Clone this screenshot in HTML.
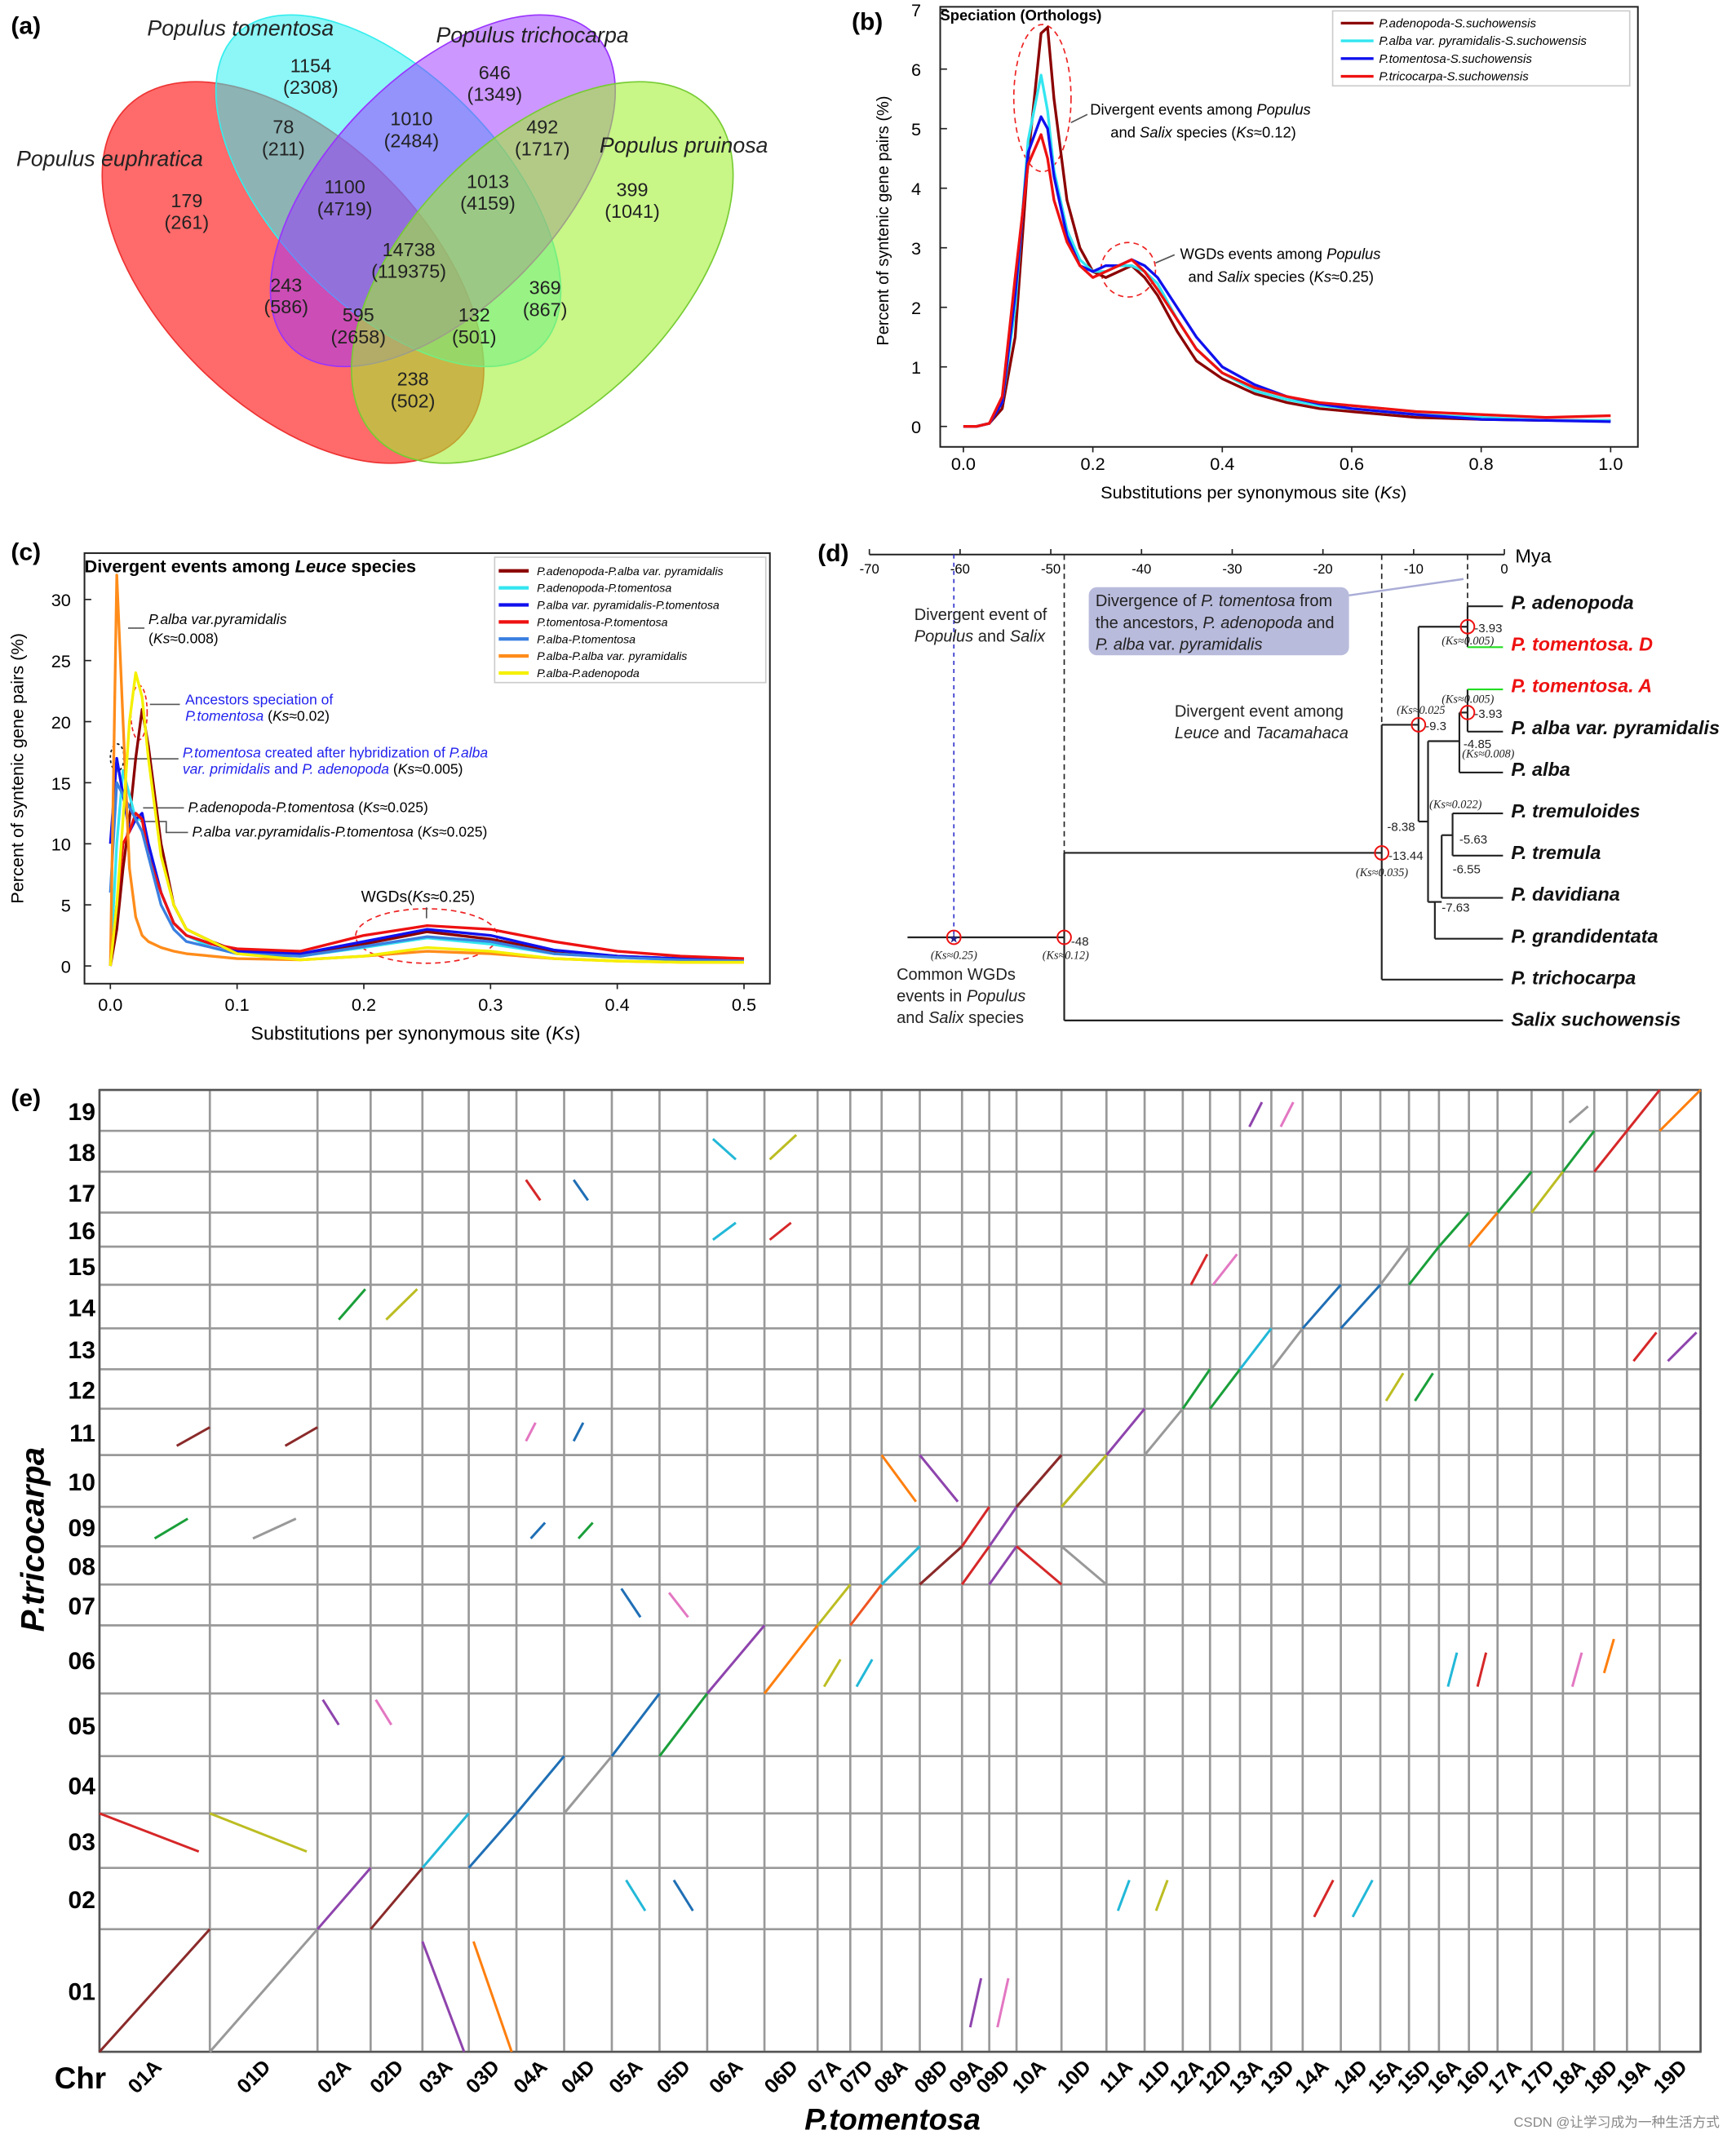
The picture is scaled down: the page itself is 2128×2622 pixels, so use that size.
<!DOCTYPE html>
<html><head><meta charset="utf-8"><style>
html,body{margin:0;padding:0;background:#fff;width:2128px;height:2622px;overflow:hidden}
svg{display:block;font-family:"Liberation Sans",sans-serif}
</style></head><body>
<svg id="fig" width="2128" height="2622" viewBox="0 0 1274 1570" preserveAspectRatio="none" xmlns="http://www.w3.org/2000/svg">
<!-- PANEL A -->
<g>
<text x="8" y="25" font-size="18" font-weight="bold">(a)</text>
<ellipse cx="215" cy="200" rx="172" ry="98" transform="rotate(45 215 200)" fill="#ff3030" fill-opacity="0.72" stroke="#e33"/>
<ellipse cx="285" cy="140" rx="160" ry="84" transform="rotate(46 285 140)" fill="#30eef0" fill-opacity="0.55" stroke="#3ee"/>
<ellipse cx="325" cy="140" rx="160" ry="84" transform="rotate(-46 325 140)" fill="#9a30ff" fill-opacity="0.5" stroke="#93f"/>
<ellipse cx="398" cy="200" rx="172" ry="98" transform="rotate(-45 398 200)" fill="#a0f030" fill-opacity="0.58" stroke="#7c3"/>
<g font-size="16" font-style="italic" fill="#222">
<text x="108" y="26">Populus tomentosa</text>
<text x="320" y="31">Populus trichocarpa</text>
<text x="12" y="122">Populus euphratica</text>
<text x="440" y="112">Populus pruinosa</text>
</g>
<g font-size="14" fill="#222" text-anchor="middle" id="vennNums"></g>
</g>
<!-- PANEL B -->
<g id="pb">
<text x="625" y="22" font-size="18" font-weight="bold">(b)</text>
<rect x="690" y="5" width="512" height="323" fill="none" stroke="#222" stroke-width="1.2"/>
<text x="690" y="15" font-size="11" font-weight="bold">Speciation (Orthologs)</text>
<text transform="translate(652 162) rotate(-90)" font-size="12" text-anchor="middle">Percent of syntenic gene pairs (%)</text>
<text x="920" y="366" font-size="13" text-anchor="middle">Substitutions per synonymous site (<tspan font-style="italic">Ks</tspan>)</text>
<rect x="978" y="8" width="218" height="55" fill="#fff" stroke="#ccc"/>
<g id="pbLegend" font-size="9" font-style="italic"></g>
<ellipse cx="765" cy="72" rx="21" ry="54" fill="none" stroke="#e22" stroke-dasharray="4,3"/>
<circle cx="828" cy="198" r="20" fill="none" stroke="#e22" stroke-dasharray="4,3"/>
<text x="800" y="84" font-size="11">Divergent events among <tspan font-style="italic">Populus</tspan></text>
<text x="815" y="101" font-size="11">and <tspan font-style="italic">Salix</tspan> species (<tspan font-style="italic">Ks</tspan>≈0.12)</text>
<text x="866" y="190" font-size="11">WGDs events among <tspan font-style="italic">Populus</tspan></text>
<text x="872" y="207" font-size="11">and <tspan font-style="italic">Salix</tspan> species (<tspan font-style="italic">Ks</tspan>≈0.25)</text>
<line x1="786" y1="90" x2="798" y2="84" stroke="#555"/>
<line x1="848" y1="193" x2="862" y2="187" stroke="#555"/>
</g>
<!-- PANEL C -->
<g id="pc">
<text x="8" y="411" font-size="18" font-weight="bold">(c)</text>
<rect x="62" y="406" width="503" height="316" fill="none" stroke="#222" stroke-width="1.2"/>
<text x="62" y="420" font-size="13" font-weight="bold">Divergent events among <tspan font-style="italic">Leuce</tspan> species</text>
<text transform="translate(17 564) rotate(-90)" font-size="13" text-anchor="middle">Percent of syntenic gene pairs (%)</text>
<text x="305" y="763" font-size="14" text-anchor="middle">Substitutions per synonymous site (<tspan font-style="italic">Ks</tspan>)</text>
<rect x="363" y="409" width="199" height="92" fill="#fff" stroke="#ccc"/>
<g id="pcLegend" font-size="8.5" font-style="italic"></g>
<g font-size="10.5">
<text x="109" y="458" font-style="italic">P.alba var.pyramidalis</text>
<text x="109" y="472">(<tspan font-style="italic">Ks</tspan>≈0.008)</text>
<text x="136" y="517" fill="#22e">Ancestors speciation of</text>
<text x="136" y="529"><tspan fill="#22e" font-style="italic">P.tomentosa</tspan> (<tspan font-style="italic">Ks</tspan>≈0.02)</text>
<text x="134" y="556" fill="#22e" font-style="italic">P.tomentosa <tspan font-style="normal">created after hybridization  of</tspan> P.alba</text>
<text x="134" y="568"><tspan fill="#22e" font-style="italic">var. primidalis <tspan font-style="normal">and</tspan> P.  adenopoda</tspan> (<tspan font-style="italic">Ks</tspan>≈0.005)</text>
<text x="138" y="596" font-style="italic">P.adenopoda-P.tomentosa <tspan font-style="normal">(</tspan>Ks<tspan font-style="normal">≈0.025)</tspan></text>
<text x="141" y="614" font-style="italic">P.alba var.pyramidalis-P.tomentosa <tspan font-style="normal">(</tspan>Ks<tspan font-style="normal">≈0.025)</tspan></text>
<text x="265" y="662" font-size="11.5">WGDs(<tspan font-style="italic">Ks</tspan>≈0.25)</text>
</g>
<ellipse cx="102" cy="523" rx="6" ry="20" fill="none" stroke="#e22" stroke-dasharray="3,2"/>
<ellipse cx="86" cy="556" rx="5" ry="10" fill="none" stroke="#111" stroke-dasharray="2,2"/>
<ellipse cx="313" cy="687" rx="52" ry="20" fill="none" stroke="#e22" stroke-dasharray="4,3"/>
<g stroke="#555" fill="none">
<line x1="94" y1="461" x2="106" y2="461"/><line x1="110" y1="517" x2="132" y2="517"/><line x1="90" y1="557" x2="131" y2="557"/>
<line x1="105" y1="593" x2="135" y2="593"/><polyline points="103,603 122,603 122,611 138,611"/><line x1="313" y1="674" x2="313" y2="666"/>
</g>
</g>
<!-- PANEL D -->
<g id="pd">
<text x="600" y="412" font-size="18" font-weight="bold">(d)</text>
<line x1="638" y1="407" x2="1104" y2="407" stroke="#222" stroke-width="1.2"/>
<g id="pdTicks" font-size="10" text-anchor="middle"></g>
<text x="1112" y="413" font-size="14">Mya</text>
<g stroke="#222" stroke-width="1.3" fill="none">
<line x1="666" y1="688" x2="781" y2="688"/>
<line x1="781" y1="626" x2="781" y2="749"/>
<line x1="781" y1="749" x2="1103" y2="749"/>
<line x1="781" y1="626" x2="1014" y2="626"/>
<line x1="1014" y1="532" x2="1014" y2="719"/>
<line x1="1014" y1="719" x2="1103" y2="719"/>
<line x1="1014" y1="532" x2="1041" y2="532"/>
<line x1="1041" y1="460" x2="1041" y2="603"/>
<line x1="1041" y1="460" x2="1077" y2="460"/>
<line x1="1077" y1="445" x2="1077" y2="475"/>
<line x1="1077" y1="445" x2="1103" y2="445"/>
<line x1="1041" y1="603" x2="1048" y2="603"/>
<line x1="1048" y1="544" x2="1048" y2="662"/>
<line x1="1048" y1="544" x2="1071" y2="544"/>
<line x1="1071" y1="523" x2="1071" y2="567"/>
<line x1="1071" y1="567" x2="1103" y2="567"/>
<line x1="1071" y1="523" x2="1077" y2="523"/>
<line x1="1077" y1="506" x2="1077" y2="537"/>
<line x1="1077" y1="537" x2="1103" y2="537"/>
<line x1="1048" y1="662" x2="1058" y2="662"/>
<line x1="1058" y1="613" x2="1058" y2="659"/>
<line x1="1058" y1="659" x2="1103" y2="659"/>
<line x1="1058" y1="613" x2="1066" y2="613"/>
<line x1="1066" y1="597" x2="1066" y2="628"/>
<line x1="1066" y1="597" x2="1103" y2="597"/>
<line x1="1066" y1="628" x2="1103" y2="628"/>
<line x1="1048" y1="662" x2="1053" y2="662"/>
<line x1="1053" y1="662" x2="1053" y2="689"/>
<line x1="1053" y1="689" x2="1103" y2="689"/>
</g>
<g stroke="#2d2" stroke-width="1.3"><line x1="1077" y1="475" x2="1103" y2="475"/><line x1="1077" y1="506" x2="1103" y2="506"/></g>
<g stroke="#222" stroke-dasharray="4,3"><line x1="781" y1="407" x2="781" y2="626"/><line x1="1014" y1="407" x2="1014" y2="532"/><line x1="1077" y1="407" x2="1077" y2="445"/></g>
<line x1="700" y1="407" x2="700" y2="688" stroke="#33c" stroke-dasharray="3,3"/>
<g fill="none" stroke="#e11" stroke-width="1.2">
<circle cx="700" cy="688" r="5"/><circle cx="781" cy="688" r="5"/><circle cx="1014" cy="626" r="5"/><circle cx="1041" cy="532" r="5"/><circle cx="1077" cy="460" r="5"/><circle cx="1077" cy="523" r="5"/>
</g>
<text x="700" y="692" font-size="9" fill="#228" text-anchor="middle">★</text>
<g font-size="9" fill="#222">
<text x="786" y="694">-48</text><text x="1019" y="631">-13.44</text><text x="1046" y="536">-9.3</text><text x="1082" y="464">-3.93</text><text x="1082" y="527">-3.93</text>
<text x="1074" y="549">-4.85</text><text x="1018" y="610">-8.38</text><text x="1071" y="619">-5.63</text><text x="1066" y="641">-6.55</text><text x="1058" y="669">-7.63</text>
<g font-family="Liberation Serif" font-style="italic" font-size="8.5">
<text x="683" y="704">(Ks≈0.25)</text><text x="765" y="704">(Ks≈0.12)</text><text x="995" y="643">(Ks≈0.035)</text><text x="1025" y="524">(Ks≈0.025</text>
<text x="1058" y="473">(Ks≈0.005)</text><text x="1058" y="516">(Ks≈0.005)</text><text x="1073" y="556">(Ks≈0.008)</text><text x="1049" y="593">(Ks≈0.022)</text>
</g></g>
<rect x="799" y="431" width="191" height="50" rx="6" fill="#b9bbdc"/>
<g font-size="12" fill="#222">
<text x="804" y="445">Divergence of <tspan font-style="italic">P. tomentosa</tspan> from</text>
<text x="804" y="461">the ancestors, <tspan font-style="italic">P. adenopoda</tspan> and</text>
<text x="804" y="477"><tspan font-style="italic">P. alba</tspan> var. <tspan font-style="italic">pyramidalis</tspan></text>
<text x="671" y="455">Divergent event of</text>
<text x="671" y="471"><tspan font-style="italic">Populus</tspan> and <tspan font-style="italic">Salix</tspan></text>
<text x="862" y="526">Divergent event among</text>
<text x="862" y="542"><tspan font-style="italic">Leuce</tspan> and <tspan font-style="italic">Tacamahaca</tspan></text>
<text x="658" y="719">Common WGDs</text>
<text x="658" y="735">events in <tspan font-style="italic">Populus</tspan></text>
<text x="658" y="751">and <tspan font-style="italic">Salix</tspan> species</text>
</g>
<line x1="990" y1="437" x2="1074" y2="425" stroke="#a9acd6" stroke-width="1.5"/>
<g id="pdLeaves" font-size="14" font-weight="bold" font-style="italic"></g>
</g>
<!-- PANEL E -->
<g id="pe">
<text x="8" y="812" font-size="18" font-weight="bold">(e)</text>
<g id="peGrid"></g>
<g id="peSegs"></g>
<g id="peLabels"></g>
<text x="40" y="1533" font-size="22" font-weight="bold">Chr</text>
<text x="655" y="1563" font-size="22" font-weight="bold" font-style="italic" text-anchor="middle">P.tomentosa</text>
<text transform="translate(32 1130) rotate(-90)" font-size="24" font-weight="bold" font-style="italic" text-anchor="middle">P.tricocarpa</text>
<text x="1262" y="1561" font-size="10" fill="#888" text-anchor="end" font-family="Liberation Sans,Noto Sans CJK SC,sans-serif">CSDN @让学习成为一种生活方式</text>
</g>
</svg>
<script>
// ===== Panel A data =====
const vennLabels=[["1154","(2308)",228,53],["646","(1349)",363,58],["78","(211)",208,98],["1010","(2484)",302,92],["492","(1717)",398,98],["179","(261)",137,152],["1100","(4719)",253,142],["14738","(119375)",300,188],["1013","(4159)",358,138],["399","(1041)",464,144],["243","(586)",210,214],["595","(2658)",263,236],["132","(501)",348,236],["369","(867)",400,216],["238","(502)",303,283]];
// ===== Panel B data =====
const bKs=[0,0.02,0.04,0.06,0.08,0.10,0.12,0.13,0.14,0.16,0.18,0.20,0.22,0.24,0.26,0.28,0.30,0.33,0.36,0.40,0.45,0.5,0.55,0.6,0.7,0.8,0.9,1.0];
const bAdenopoda=[0,0,0.05,0.3,1.5,4.5,6.6,6.7,5.5,3.8,3.0,2.6,2.5,2.6,2.7,2.5,2.2,1.6,1.1,0.8,0.55,0.4,0.3,0.25,0.15,0.12,0.1,0.1];
const bAlba=[0,0,0.05,0.4,2,4.8,5.9,5.3,4.3,3.3,2.8,2.6,2.6,2.7,2.7,2.6,2.4,1.8,1.3,0.9,0.6,0.45,0.35,0.3,0.2,0.15,0.1,0.1];
const bTomentosa=[0,0,0.05,0.4,2.2,4.6,5.2,5.0,4.2,3.2,2.7,2.6,2.7,2.7,2.8,2.7,2.5,2.0,1.5,1.0,0.7,0.5,0.38,0.3,0.2,0.12,0.1,0.08];
const bTricocarpa=[0,0,0.05,0.5,2.5,4.4,4.9,4.5,3.8,3.1,2.7,2.5,2.6,2.7,2.8,2.6,2.3,1.8,1.3,0.9,0.65,0.5,0.4,0.35,0.25,0.2,0.15,0.18];
const bNames=["P.adenopoda-S.suchowensis","P.alba var. pyramidalis-S.suchowensis","P.tomentosa-S.suchowensis","P.tricocarpa-S.suchowensis"];
const bXTicks=[0,0.2,0.4,0.6,0.8,1.0];
const bYTicks=[0,1,2,3,4,5,6,7];
// ===== Panel C data =====
const cKs=[0,0.005,0.01,0.015,0.02,0.025,0.03,0.04,0.05,0.06,0.08,0.1,0.15,0.2,0.25,0.3,0.35,0.4,0.45,0.5];
const cAdenoAlbaVar=[0,3,8,12,17,21,18,10,5,3,2,1.2,1,1.8,2.8,2.2,1.2,0.8,0.6,0.5];
const cAdenoTom=[0,10,16,14,12,12,10,6,3.5,2.5,1.5,1,0.8,1.5,2.3,1.8,1,0.7,0.5,0.4];
const cAlbaVarTom=[10,17,14,11,12,12.5,10,6,3.5,2.5,1.8,1.2,1,2,3,2.5,1.3,0.8,0.6,0.5];
const cTomTom=[0,5,10,11,12.5,12,9,6,3.5,2.5,1.8,1.4,1.2,2.5,3.3,3,2,1.2,0.8,0.6];
const cAlbaTom=[6,15,14,13,12,11,9,5,3,2,1.5,1,0.8,1.6,2.4,2,1,0.7,0.5,0.4];
const cAlbaAlbaVar=[0,32,20,8,4,2.5,2,1.5,1.2,1,0.8,0.6,0.5,0.8,1.2,1,0.6,0.4,0.3,0.3];
const cAlbaAdeno=[0,5,12,20,24,22,17,9,5,3,2,1,0.5,0.8,1.5,1.2,0.6,0.4,0.3,0.3];
const cNames=["P.adenopoda-P.alba var. pyramidalis","P.adenopoda-P.tomentosa","P.alba var. pyramidalis-P.tomentosa","P.tomentosa-P.tomentosa","P.alba-P.tomentosa","P.alba-P.alba var. pyramidalis","P.alba-P.adenopoda"];
const cXTicks=[0,0.1,0.2,0.3,0.4,0.5];
const cYTicks=[0,5,10,15,20,25,30];
// ===== Panel D data =====
const dTicks=[-70,-60,-50,-40,-30,-20,-10,0];
const dLeaves=["P. adenopoda","P. tomentosa. D","P. tomentosa. A","P. alba var. pyramidalis","P. alba","P. tremuloides","P. tremula","P. davidiana","P. grandidentata","P. trichocarpa","Salix suchowensis"];
// ===== Panel E data =====
const eCols=["01A","01D","02A","02D","03A","03D","04A","04D","05A","05D","06A","06D","07A","07D","08A","08D","09A","09D","10A","10D","11A","11D","12A","12D","13A","13D","14A","14D","15A","15D","16A","16D","17A","17D","18A","18D","19A","19D"];
const eRows=["01","02","03","04","05","06","07","08","09","10","11","12","13","14","15","16","17","18","19"];
const eSegs=[];
const diagColors=["#8b2a2a","#999","#8e44ad","#8b2a2a","#22b8d8","#1f6fb5","#1f6fb5","#999","#1f6fb5","#1a9f3a","#8e44ad","#ff7f0e","#bcbd22","#e52","#22b8d8","#8b2a2a","#d62728","#8e44ad","#8b2a2a","#bcbd22","#8e44ad","#999","#1a9f3a","#1a9f3a","#22b8d8","#999","#1f6fb5","#1f6fb5","#999","#1a9f3a","#1a9f3a","#ff7f0e","#1a9f3a","#bcbd22","#1a9f3a","#d62728","#d62728","#ff7f0e"];
for(let i=0;i<38;i++){eSegs.push([i,Math.floor(i/2),0,0,1,1,diagColors[i]]);}
eSegs.push(
[0,2,0,1,0.9,0.3,"#d62728"],[1,2,0,1,0.9,0.3,"#bcbd22"],[4,0,0,0.9,0.9,0,"#8e44ad"],[5,0,0.1,0.9,0.9,0,"#ff7f0e"],
[0,8,0.5,0.2,0.8,0.7,"#1a9f3a"],[1,8,0.4,0.2,0.8,0.7,"#999"],[0,10,0.7,0.2,1,0.6,"#8b2a2a"],[1,10,0.7,0.2,1,0.6,"#8b2a2a"],
[2,13,0.4,0.2,0.9,0.9,"#1a9f3a"],[3,13,0.3,0.2,0.9,0.9,"#bcbd22"],[2,4,0.1,0.9,0.4,0.5,"#8e44ad"],[3,4,0.1,0.9,0.4,0.5,"#e377c2"],
[14,9,0,1,0.9,0.1,"#ff7f0e"],[15,9,0,1,0.9,0.1,"#8e44ad"],[14,7,0,0,1,1,"#22b8d8"],[15,7,0,0,1,1,"#8b2a2a"],
[16,7,0,0,1,1,"#d62728"],[17,7,0,0,1,1,"#8e44ad"],[18,7,0,1,1,0,"#d62728"],[19,7,0,1,1,0,"#999"],
[18,9,0,0,1,1,"#8b2a2a"],[19,9,0,0,1,1,"#bcbd22"],[20,1,0.3,0.3,0.6,0.8,"#22b8d8"],[21,1,0.3,0.3,0.6,0.8,"#bcbd22"],
[26,1,0.3,0.2,0.8,0.8,"#d62728"],[27,1,0.3,0.2,0.8,0.8,"#22b8d8"],[22,14,0.3,0,0.9,0.8,"#d62728"],[23,14,0.1,0,0.9,0.8,"#e377c2"],
[36,12,0.2,0.2,0.9,0.9,"#d62728"],[37,12,0.2,0.2,0.9,0.9,"#8e44ad"],[30,5,0.3,0.1,0.6,0.6,"#22b8d8"],[31,5,0.3,0.1,0.6,0.6,"#d62728"],
[34,5,0.3,0.1,0.6,0.6,"#e377c2"],[35,5,0.3,0.3,0.6,0.8,"#ff7f0e"],[10,15,0.1,0.2,0.5,0.7,"#22b8d8"],[11,15,0.1,0.2,0.5,0.7,"#d62728"],
[10,17,0.1,0.8,0.5,0.3,"#22b8d8"],[11,17,0.1,0.3,0.6,0.9,"#bcbd22"],[6,16,0.2,0.8,0.5,0.3,"#d62728"],[7,16,0.2,0.8,0.5,0.3,"#1f6fb5"],
[8,6,0.2,0.9,0.6,0.2,"#1f6fb5"],[9,6,0.2,0.8,0.6,0.2,"#e377c2"],[12,5,0.2,0.1,0.7,0.5,"#bcbd22"],[13,5,0.2,0.1,0.7,0.5,"#22b8d8"],
[24,18,0.3,0.1,0.7,0.7,"#8e44ad"],[25,18,0.3,0.1,0.7,0.7,"#e377c2"],[28,11,0.2,0.2,0.8,0.9,"#bcbd22"],[29,11,0.2,0.2,0.8,0.9,"#1a9f3a"],
[16,0,0.3,0.2,0.7,0.6,"#8e44ad"],[17,0,0.3,0.2,0.7,0.6,"#e377c2"],[6,8,0.3,0.2,0.6,0.6,"#1f6fb5"],[7,8,0.3,0.2,0.6,0.6,"#1a9f3a"],
[8,1,0.3,0.8,0.7,0.3,"#22b8d8"],[9,1,0.3,0.8,0.7,0.3,"#1f6fb5"],[34,18,0.2,0.2,0.8,0.6,"#999"],[6,10,0.2,0.3,0.4,0.7,"#e377c2"],[7,10,0.2,0.3,0.4,0.7,"#1f6fb5"]
);

const NS="http://www.w3.org/2000/svg";
function mk(tag,attrs,parent){const e=document.createElementNS(NS,tag);for(const k in attrs)e.setAttribute(k,attrs[k]);parent.appendChild(e);return e;}

const vg=document.getElementById('vennNums');
vennLabels.forEach(v=>{const t=mk('text',{x:v[2],y:v[3]},vg);t.textContent=v[0];


const t2=mk('text',{x:v[2],y:v[3]+16},vg);t2.textContent=v[1];

});

function lineChart(gid,xs,series,colors,xTicks,yTicks,x0,x1,xmax,y0,y1,ymax,tickFmt,lw,fs){
  const g=document.getElementById(gid);
  const sx=v=>x0+(x1-x0)*v/xmax, sy=v=>y0-(y0-y1)*v/ymax;
  xTicks.forEach(t=>{mk('line',{x1:sx(t),x2:sx(t),y1:y0+(gid=='pb'?15:13),y2:y0+(gid=='pb'?19:17),stroke:'#222'},g);
    const tx=mk('text',{x:sx(t),y:y0+(gid=='pb'?32:33),'font-size':fs,'text-anchor':'middle'},g);tx.textContent=tickFmt(t);
    
    });
  yTicks.forEach(t=>{const tx=mk('text',{x:gid=='pb'?676:52,y:sy(t)+5,'font-size':fs,'text-anchor':'end'},g);tx.textContent=t;
    
    
    mk('line',{x1:gid=='pb'?690:62,x2:gid=='pb'?695:67,y1:sy(t),y2:sy(t),stroke:'#222'},g);});
  series.forEach((s,i)=>{const p=mk('polyline',{points:s.map((v,j)=>sx(xs[j]).toFixed(1)+','+sy(v).toFixed(1)).join(' '),fill:'none',stroke:colors[i],'stroke-width':lw,'stroke-linejoin':'round'},g);
    
    });
}
const bColors=["#8b0000","#33e6f0","#1010ee","#ee1111"];
lineChart('pb',bKs,[bAdenopoda,bAlba,bTomentosa,bTricocarpa],bColors,bXTicks,bYTicks,707,1182,1,313,7,7,t=>t.toFixed(1),2,13);
const bl=document.getElementById('pbLegend');
bNames.forEach((n,i)=>{mk('line',{x1:984,x2:1008,y1:17+i*13,y2:17+i*13,stroke:bColors[i],'stroke-width':2},bl);
 const t=mk('text',{x:1012,y:20+i*13},bl);t.textContent=n;
 
 });
const cColors=["#8b0000","#33e6f0","#1010ee","#ee1111","#3a7fe0","#ff8c1a","#f5f000"];
lineChart('pc',cKs,[cAdenoAlbaVar,cAdenoTom,cAlbaVarTom,cTomTom,cAlbaTom,cAlbaAlbaVar,cAlbaAdeno],cColors,cXTicks,cYTicks,81,546,0.5,709,440,30,t=>t.toFixed(1),2,13);
const cl=document.getElementById('pcLegend');
cNames.forEach((n,i)=>{mk('line',{x1:366,x2:388,y1:419+i*12.5,y2:419+i*12.5,stroke:cColors[i],'stroke-width':2.5},cl);
 const t=mk('text',{x:394,y:422+i*12.5},cl);t.textContent=n;
 
 });

const dt=document.getElementById('pdTicks');
dTicks.forEach(t=>{const x=1104+t*6.657;mk('line',{x1:x,x2:x,y1:403,y2:407,stroke:'#222'},dt);
 const tx=mk('text',{x:x,y:421},dt);tx.textContent=t;
 
 });
const dl=document.getElementById('pdLeaves');
dLeaves.forEach((n,i)=>{const t=mk('text',{x:1109,y:447+i*30.6,fill:(i==1||i==2)?'#e11':'#111'},dl);t.textContent=n;
 
 });

const colB=[73,154,233,272,310,344,379,414,449,484,519,561,600,624,647,675,706,726,746,779,812,840,868,888,910,933,956,984,1013,1034,1056,1078,1099,1124,1147,1170,1194,1218,1248];
const rowB=[1506,1416,1371,1331,1289,1243,1193,1163,1135,1106,1068,1034,1005,975,943,915,890,860,830,800];
const gg=document.getElementById('peGrid');
colB.forEach(x=>mk('line',{x1:x,x2:x,y1:800,y2:1506,stroke:'#999','stroke-width':1.6},gg));
rowB.forEach(y=>mk('line',{x1:73,x2:1248,y1:y,y2:y,stroke:'#999','stroke-width':1.6},gg));
mk('rect',{x:73,y:800,width:1175,height:706,fill:'none',stroke:'#555','stroke-width':1.5},gg);
const sg=document.getElementById('peSegs');
eSegs.forEach(s=>{const xa=colB[s[0]],xb=colB[s[0]+1],ya=rowB[s[1]],yb=rowB[s[1]+1];
 const l=mk('line',{x1:xa+(xb-xa)*s[2],y1:ya-(ya-yb)*s[3],x2:xa+(xb-xa)*s[4],y2:ya-(ya-yb)*s[5],stroke:s[6],'stroke-width':1.8},sg);
 
 });
const lg=document.getElementById('peLabels');
eCols.forEach((c,i)=>{const x=(colB[i]+colB[i+1])/2;const t=mk('text',{transform:`translate(${x+6} ${1518}) rotate(-45)`,'font-size':15,'font-weight':'bold','text-anchor':'end'},lg);t.textContent=c;
 
 });
eRows.forEach((r,i)=>{const y=(rowB[i]+rowB[i+1])/2;const t=mk('text',{x:70,y:y+7,'font-size':18,'font-weight':'bold','text-anchor':'end'},lg);t.textContent=r;
 
 });
</script>
</body></html>
